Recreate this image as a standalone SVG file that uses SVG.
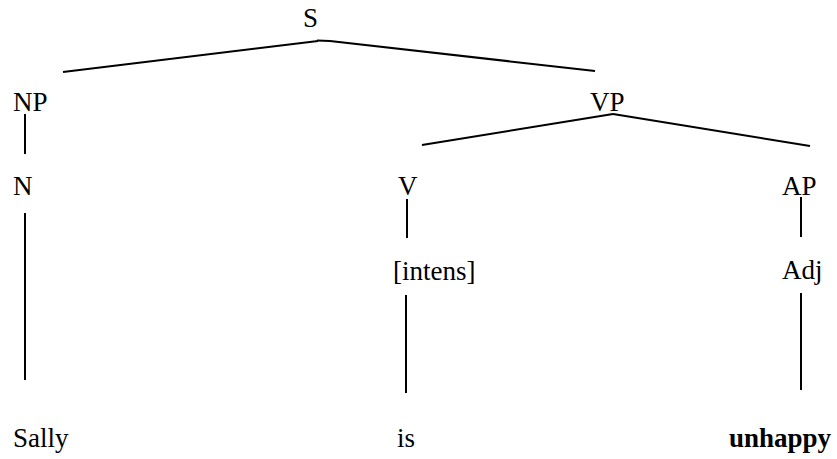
<svg xmlns="http://www.w3.org/2000/svg" width="837" height="459" viewBox="0 0 837 459">
<style>
text{font-family:"Liberation Serif",Tinos,"Times New Roman",Times,"Nimbus Roman","DejaVu Serif","Noto Serif",serif;font-size:27px;fill:#000}
.b{font-weight:bold}
line{stroke:#000;stroke-width:2;stroke-linecap:butt}
</style>
<rect width="837" height="459" fill="#fff"/>
<g id="connectors">
<line x1="63" y1="72" x2="318" y2="41"/>
<line x1="317" y1="40.5" x2="330" y2="41"/>
<line x1="330" y1="41" x2="595" y2="71"/>
<line x1="25" y1="114" x2="25" y2="154"/>
<line x1="25" y1="213" x2="25" y2="380"/>
<line x1="422" y1="145" x2="613" y2="114"/>
<line x1="613" y1="114" x2="810" y2="146"/>
<line x1="407" y1="199" x2="407" y2="238"/>
<line x1="406" y1="295" x2="406" y2="393"/>
<line x1="801" y1="197" x2="801" y2="237"/>
<line x1="801" y1="293" x2="801" y2="390"/>
</g>
<g id="S"><text x="303" y="27">S</text></g>
<g id="NP"><text x="13" y="111">NP</text></g>
<g id="VP"><text x="590" y="111">VP</text></g>
<g id="N"><text x="13" y="195">N</text></g>
<g id="V"><text x="398" y="195">V</text></g>
<g id="AP"><text x="782" y="195">AP</text></g>
<g id="intens"><text x="393" y="280">[intens]</text></g>
<g id="Adj"><text x="782" y="279">Adj</text></g>
<g id="Sally"><text x="13" y="447">Sally</text></g>
<g id="is"><text x="397" y="447">is</text></g>
<g id="unhappy"><text class="b" x="729" y="447">unhappy</text></g>
</svg>
